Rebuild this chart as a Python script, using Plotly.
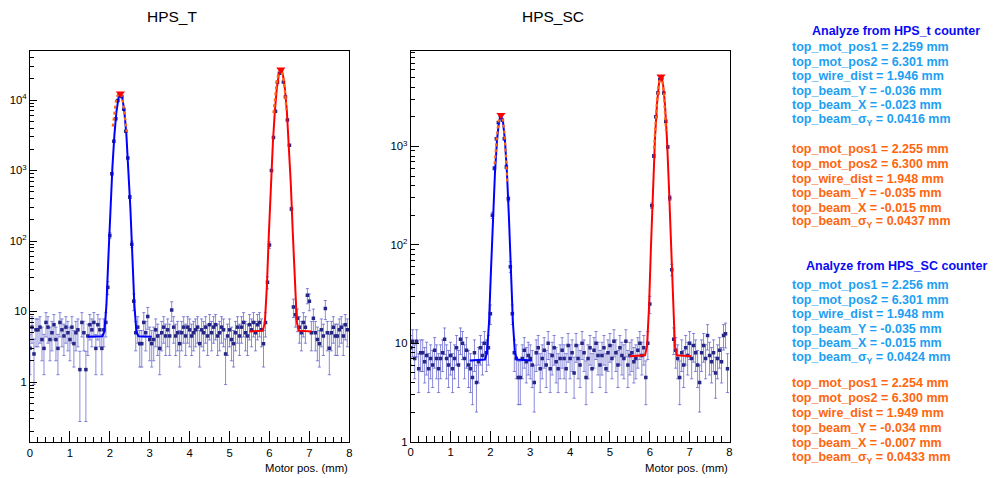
import numpy as np
import plotly.graph_objects as go

# ---------------- data ----------------
# motor scan positions (mm), 0.05 mm steps
motor_pos = np.round(np.arange(160) * 0.05, 2)

# HPS_T counter rates per motor position
hps_t_counts = (
    [3, 6, 2.5, 5.5, 5.5, 6, 4, 3, 7, 6, 4, 5, 6.5, 4, 3, 7, 5.5, 4.5, 6, 5]
    + [4, 6, 3.5, 5, 5.5, 1.5, 7, 5, 1.5, 4.5, 6.5, 5.5, 7, 3, 6.5, 5.5, 3, 5.5, 7, 22]
    + [120, 900, 2600, 5400, 9800, 12300, 11200, 7400, 3600, 1500, 420, 90, 14, 5, 6, 3.5, 3.5, 7, 5, 8.5]
    + [4, 3.5, 4, 5.5, 4.5, 3, 5, 6, 4.5, 5.5, 4.5, 10.5, 6, 4.5, 5, 3.5, 5, 6, 4.5, 6]
    + [5.5, 4.5, 5, 5.5, 6, 3.5, 5.5, 5, 6, 4.5, 6.5, 5, 6, 6.5, 4.5, 5, 6, 5.5, 2.5, 4.5]
    + [5.5, 4, 3.5, 5, 6, 4.5, 6, 7, 5, 4.5, 6.5, 5.5, 7, 5, 6.5, 7, 5.5, 3.5, 7, 26]
    + [88, 1000, 2930, 6950, 17800, 24000, 26000, 18000, 11000, 5200, 2280, 285, 11.6, 9, 8, 6, 5, 7, 6, 17]
    + [14, 5, 8, 5, 4, 3.5, 5.5, 4.5, 11, 5, 3, 5, 6, 4.5, 4.5, 5.5, 6, 4.5, 6.5, 5.5]
)

# HPS_SC counter rates per motor position
hps_sc_counts = (
    [9, 10.5, 7, 10.5, 5.5, 8, 8, 6.5, 7.5, 5.5, 7, 6, 8.5, 7, 5.5, 7, 8, 11, 7, 6]
    + [7.5, 5.5, 7, 9, 6, 11, 10, 7, 8.5, 6, 5.5, 4.5, 8, 4, 6.5, 9, 7.5, 10, 8, 9]
    + [20, 200, 600, 1200, 1750, 2050, 1850, 1200, 620, 295, 60, 20, 8, 7, 4.5, 4.5, 7, 8.5, 6.5, 7.5]
    + [7, 6, 4, 8, 9, 5.5, 7, 8.5, 6, 10, 5.5, 7.5, 9, 6.5, 5.5, 7, 8.5, 7, 5.5, 9.5]
    + [7, 8, 5, 9.5, 7, 6, 10, 8, 4.5, 7, 9, 5.5, 8.5, 10, 7.5, 6, 7.5, 9, 5.5, 8]
    + [9.5, 7, 10.5, 8, 6, 9, 7.5, 7, 10.5, 6, 7.5, 8, 6.5, 7, 8.5, 10, 7.5, 9, 4.5, 10]
    + [25, 250, 800, 2000, 3500, 4800, 4900, 3500, 1800, 990, 300, 56, 11, 8.5, 7, 4.5, 8, 6, 9, 7.5]
    + [10, 7, 9.5, 8, 6, 4, 8, 9.5, 7, 12, 7.5, 6.5, 8, 5, 7, 8.5, 6.5, 12, 12.5, 5.5]
)

# fit curves (blue = first wire, red = second wire)
fit_t1_x = [1.45, 1.815, 1.865, 1.915, 1.965, 2.015, 2.065, 2.115, 2.165, 2.215, 2.265,
            2.315, 2.365, 2.415, 2.465, 2.515, 2.565, 2.615, 2.665, 2.715, 3.05]
fit_t1_y = [4.4, 4.47, 5.25, 12.4, 60.6, 292, 1120, 3200, 6760, 10590, 12300,
            10590, 6760, 3200, 1120, 292, 60.6, 12.4, 5.25, 4.47, 4.4]
fit_t2_x = [5.50, 5.835, 5.885, 5.935, 5.985, 6.035, 6.085, 6.135, 6.185, 6.235, 6.285,
            6.335, 6.385, 6.435, 6.485, 6.535, 6.585, 6.635, 6.685, 6.735, 7.05]
fit_t2_y = [5.2, 5.35, 7.06, 22.8, 128, 638, 2455, 7000, 14790, 23170, 26900,
            23170, 14790, 7000, 2455, 638, 128, 22.8, 7.06, 5.35, 5.2]
fit_sc1_x = [1.48, 1.865, 1.915, 1.965, 2.015, 2.065, 2.115, 2.165, 2.215, 2.265,
             2.315, 2.365, 2.415, 2.465, 2.515, 2.565, 2.615, 2.665, 3.04]
fit_sc1_y = [6.7, 6.85, 8.1, 16.2, 56, 190, 543, 1150, 1800, 2090,
             1800, 1150, 543, 190, 56, 16.2, 8.1, 6.85, 6.7]
fit_sc2_x = [5.48, 5.88, 5.93, 5.98, 6.03, 6.08, 6.13, 6.18, 6.23, 6.28,
             6.33, 6.38, 6.43, 6.48, 6.53, 6.58, 6.63, 6.68, 7.04]
fit_sc2_y = [7.4, 7.57, 9.3, 22.9, 98.6, 389, 1200, 2690, 4365, 5130,
             4365, 2690, 1200, 389, 98.6, 22.9, 9.3, 7.57, 7.4]

# second (orange) fits around the peak tops
top_t1_x = [2.075, 2.115, 2.155, 2.195, 2.235, 2.265, 2.295, 2.335, 2.375, 2.425]
top_t1_y = [4200, 7000, 9800, 11700, 12400, 12400, 11500, 9000, 6000, 3500]
top_t2_x = [6.10, 6.14, 6.185, 6.225, 6.27, 6.30, 6.345, 6.385, 6.425]
top_t2_y = [6500, 12000, 18500, 24000, 27000, 26500, 21000, 13500, 7200]
top_sc1_x = [2.105, 2.145, 2.185, 2.225, 2.265, 2.31, 2.35, 2.39, 2.425]
top_sc1_y = [660, 1050, 1550, 1950, 2090, 1900, 1400, 800, 420]
top_sc2_x = [6.105, 6.145, 6.185, 6.225, 6.27, 6.315, 6.355, 6.405]
top_sc2_y = [950, 1800, 3100, 4400, 5150, 4700, 3300, 1450]

# peak markers
peak_t_x = [2.265, 6.285]
peak_t_y = [12400, 27000]
peak_sc_x = [2.265, 6.28]
peak_sc_y = [2090, 5130]

panel_titles = ["HPS_T", "HPS_SC"]
x_title = "Motor pos. (mm)"
x_tick_vals = [0, 1, 2, 3, 4, 5, 6, 7, 8]

header_t = "Analyze from HPS_t counter"
header_sc = "Analyze from HPS_SC counter"
res_t_a = ["top_mot_pos1 = 2.259 mm", "top_mot_pos2 = 6.301 mm", "top_wire_dist = 1.946 mm",
           "top_beam_Y = -0.036 mm", "top_beam_X = -0.023 mm", "top_beam_σ<sub>Y</sub> = 0.0416 mm"]
res_t_b = ["top_mot_pos1 = 2.255 mm", "top_mot_pos2 = 6.300 mm", "top_wire_dist = 1.948 mm",
           "top_beam_Y = -0.035 mm", "top_beam_X = -0.015 mm", "top_beam_σ<sub>Y</sub> = 0.0437 mm"]
res_sc_a = ["top_mot_pos1 = 2.256 mm", "top_mot_pos2 = 6.301 mm", "top_wire_dist = 1.948 mm",
            "top_beam_Y = -0.035 mm", "top_beam_X = -0.015 mm", "top_beam_σ<sub>Y</sub> = 0.0424 mm"]
res_sc_b = ["top_mot_pos1 = 2.254 mm", "top_mot_pos2 = 6.300 mm", "top_wire_dist = 1.949 mm",
            "top_beam_Y = -0.034 mm", "top_beam_X = -0.007 mm", "top_beam_σ<sub>Y</sub> = 0.0433 mm"]

# ---------------- figure ----------------
# the page body has an 8px default margin: size the figure to fill the rest of the window
OFF = 8
W, H = 1001 - OFF, 478 - OFF
FONT = "Liberation Sans, Arial, Helvetica, sans-serif"
C_HEAD = "#0a0af5"
C_LB = "#1e9ff2"
C_OR = "#ff660f"


def px(x):
    return (x - OFF) / W


def py(y):
    return 1 - (y - OFF) / H


fig = go.Figure()


def add_panel(xa, ya, counts, fits, tops, pk_x, pk_y):
    counts = np.asarray(counts, dtype=float)
    err = np.sqrt(counts)
    fig.add_trace(go.Scatter(
        x=motor_pos, y=counts, mode="markers", xaxis=xa, yaxis=ya,
        marker=dict(symbol="square", size=3.5, color="#262686"),
        error_y=dict(type="data", array=err, visible=True, thickness=1, width=1.6,
                     color="rgba(70,70,195,0.62)"),
        hoverinfo="skip"))
    for (fx, fy), col in zip(fits, ["#0000ff", "#ff0000"]):
        fig.add_trace(go.Scatter(x=fx, y=fy, mode="lines", xaxis=xa, yaxis=ya,
                                 line=dict(color=col, width=2), hoverinfo="skip"))
    for tx, ty in tops:
        fig.add_trace(go.Scatter(x=tx, y=ty, mode="lines", xaxis=xa, yaxis=ya,
                                 line=dict(color=C_OR, width=2.2, dash="dot"),
                                 hoverinfo="skip"))
    fig.add_trace(go.Scatter(x=pk_x, y=pk_y, mode="markers", xaxis=xa, yaxis=ya,
                             marker=dict(symbol="triangle-down", size=8, color="#ff0000"),
                             hoverinfo="skip"))


add_panel("x", "y", hps_t_counts,
          [(fit_t1_x, fit_t1_y), (fit_t2_x, fit_t2_y)],
          [(top_t1_x, top_t1_y), (top_t2_x, top_t2_y)], peak_t_x, peak_t_y)
add_panel("x2", "y2", hps_sc_counts,
          [(fit_sc1_x, fit_sc1_y), (fit_sc2_x, fit_sc2_y)],
          [(top_sc1_x, top_sc1_y), (top_sc2_x, top_sc2_y)], peak_sc_x, peak_sc_y)

tick_font = dict(family=FONT, size=11.3, color="black")


def xaxis_cfg(x0, x1):
    return dict(domain=[px(x0), px(x1)], range=[0, 8], showgrid=False, zeroline=False,
                showline=True, linecolor="black", linewidth=1, mirror=True,
                ticks="inside", ticklen=11, tickcolor="black", tickwidth=1,
                tickmode="array", tickvals=x_tick_vals, tickfont=tick_font,
                minor=dict(ticks="inside", ticklen=5.5, dtick=0.2, tick0=0,
                           tickcolor="black", showgrid=False),
                automargin=False, fixedrange=True)


def yaxis_cfg(y_top, y_bot, rng, major, minor, anchor, ml, nl):
    labels = []
    for v in major:
        e = int(round(np.log10(v)))
        labels.append("1" if e == 0 else ("10" if e == 1 else f"10<sup>{e}</sup>"))
    return dict(domain=[py(y_bot), py(y_top)], type="log", range=rng, showgrid=False,
                zeroline=False, showline=True, linecolor="black", linewidth=1, mirror=True,
                ticks="inside", ticklen=ml, tickcolor="black", tickwidth=1,
                tickmode="array", tickvals=major, ticktext=labels, tickfont=tick_font,
                minor=dict(ticks="inside", ticklen=nl, tickmode="array", tickvals=minor,
                           tickcolor="black", showgrid=False),
                anchor=anchor, automargin=False, fixedrange=True)


minor_t = [m * 10.0 ** d for d in range(-1, 5) for m in range(2, 10)
           if -0.85 <= np.log10(m * 10.0 ** d) <= 4.695]
minor_sc = [m * 10.0 ** d for d in range(0, 4) for m in range(2, 10)
            if np.log10(m * 10.0 ** d) <= 3.97]

fig.update_layout(
    width=W, height=H, margin=dict(l=0, r=0, t=0, b=0),
    paper_bgcolor="white", plot_bgcolor="white", showlegend=False,
    font=dict(family=FONT, color="black"),
    xaxis=dict(xaxis_cfg(30, 349.3), anchor="y"),
    yaxis=yaxis_cfg(51, 442, [-0.851, 4.695], [1, 10, 100, 1000, 10000], minor_t, "x", 7, 4),
    xaxis2=dict(xaxis_cfg(410.7, 729.5), anchor="y2"),
    yaxis2=yaxis_cfg(51, 441.7, [0, 3.97], [1, 10, 100, 1000], minor_sc, "x2", 8.5, 4.5),
)

ann = []
# panel titles
ann.append(dict(text=panel_titles[0], x=px(172), y=py(17), xref="paper", yref="paper",
                showarrow=False, xanchor="center", yanchor="middle",
                font=dict(family=FONT, size=15.5, color="black")))
ann.append(dict(text=panel_titles[1], x=px(553), y=py(17), xref="paper", yref="paper",
                showarrow=False, xanchor="center", yanchor="middle",
                font=dict(family=FONT, size=15.5, color="black")))
# axis titles
for xr in (350, 730):
    ann.append(dict(text=x_title, x=px(xr), y=py(468), xref="paper", yref="paper",
                    showarrow=False, xanchor="right", yanchor="middle",
                    font=dict(family=FONT, size=11.3, color="black")))

TXT = 12.5
ann.append(dict(text=f"<b>{header_t}</b>", x=px(896), y=py(31), xref="paper", yref="paper",
                showarrow=False, xanchor="center", yanchor="middle",
                font=dict(family=FONT, size=TXT, color=C_HEAD)))
ann.append(dict(text=f"<b>{header_sc}</b>", x=px(896), y=py(265.7), xref="paper", yref="paper",
                showarrow=False, xanchor="center", yanchor="middle",
                font=dict(family=FONT, size=TXT, color=C_HEAD)))

blocks = [
    (res_t_a, C_LB, [47.3, 61.9, 76.3, 90.8, 105.2, 120.0]),
    (res_t_b, C_OR, [149.3, 163.9, 178.5, 193.1, 207.7, 222.3]),
    (res_sc_a, C_LB, [285.0, 299.6, 314.2, 328.8, 343.4, 358.3]),
    (res_sc_b, C_OR, [383.3, 398.3, 413.3, 428.1, 442.9, 458.0]),
]
for lines, col, ys in blocks:
    for t, yy in zip(lines, ys):
        ann.append(dict(text=f"<b>{t}</b>", x=px(790), y=py(yy), xref="paper", yref="paper",
                        showarrow=False, xanchor="left", yanchor="middle",
                        font=dict(family=FONT, size=TXT, color=col)))

fig.update_layout(annotations=ann)
fig.write_html("out.html")
